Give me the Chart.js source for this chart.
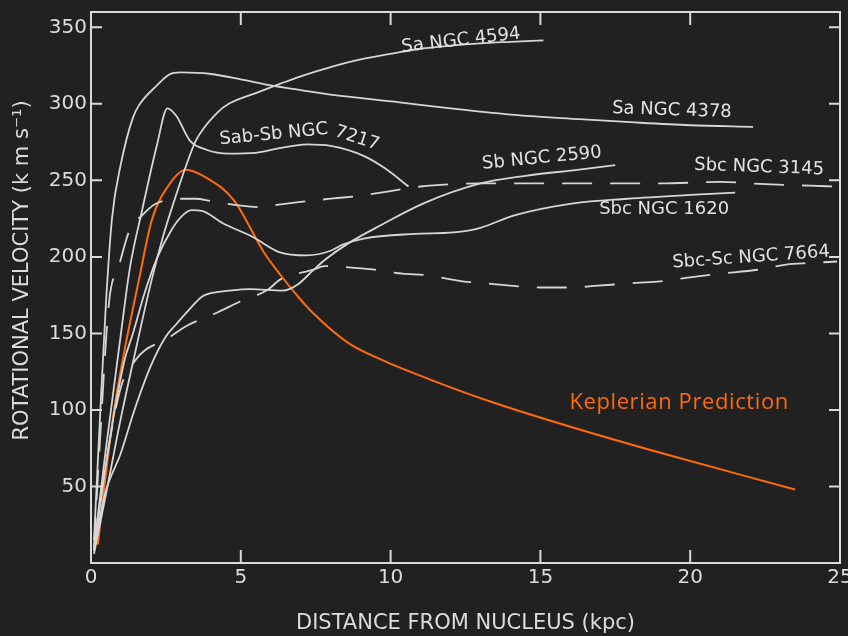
<!DOCTYPE html>
<html><head><meta charset="utf-8">
<script src="https://cdn.jsdelivr.net/npm/chart.js@4"></script>
<style>html,body{margin:0;padding:0;background:#212121;}canvas{display:block;}</style>
</head><body>
<canvas id="c" width="848" height="636"></canvas>
<script>
// ---- data (distance kpc, rotational velocity km/s) ----
const xTickValues = [0, 5, 10, 15, 20, 25];
const yTickValues = [50, 100, 150, 200, 250, 300, 350];

const ngc4594_x = [0.1, 0.5, 1.0, 1.4, 2.0, 2.4, 2.7, 3.2, 3.5, 4.2, 4.6, 5.5, 6.3, 7.0, 8.0, 9.0, 10.1, 11, 12, 13, 14, 15.1];
const ngc4594_v = [6, 45, 95, 131, 183, 213, 232, 261, 276, 294, 300, 307, 313, 318, 324, 329, 333, 336, 338, 339.5, 340.5, 341.5];

const ngc4378_x = [0.1, 0.3, 0.5, 0.7, 1.0, 1.4, 1.6, 2.2, 2.6, 3.0, 4.0, 5.0, 6.0, 7.0, 8.0, 10.3, 12, 14, 16.3, 18, 20, 22.1];
const ngc4378_v = [15, 95, 170, 225, 261, 291, 299, 312, 319, 320.5, 319.5, 316, 312, 309, 306, 301, 297, 293, 290, 288, 286, 285];

const ngc7217_x = [0.1, 0.5, 1.0, 1.3, 1.7, 2.2, 2.55, 2.85, 3.3, 3.85, 4.6, 5.5, 6.3, 7.2, 8.0, 9.1, 9.8, 10.6];
const ngc7217_v = [10, 75, 150, 193, 230, 273, 297, 292, 276, 270, 267.5, 268, 271, 273.5, 272.5, 266, 258, 246];

const ngc2590_x = [0.1, 0.45, 1.0, 1.45, 2.0, 2.5, 2.8, 3.3, 3.7, 4.2, 4.6, 5.3, 6.4, 6.9, 7.4, 7.8, 8.6, 9.7, 11.1, 13, 14.5, 16.3, 17.5];
const ngc2590_v = [8, 44, 72, 100, 129, 148, 155, 166, 174, 177, 178, 179, 178, 182, 191, 198, 209, 221, 235, 248, 253, 257, 260];

const ngc3145_x = [0.1, 0.3, 0.6, 0.93, 1.3, 1.7, 2.1, 2.5, 3.0, 3.5, 4.0, 5.0, 5.7, 6.2, 7.0, 8.0, 9.0, 10.0, 11.0, 12.0, 13.0, 15.0, 17.0, 19.0, 21.0, 22.5, 24.0, 24.8];
const ngc3145_v = [10, 80, 170, 194, 218, 227, 234, 237, 238, 238, 236.5, 233.5, 232.5, 234, 236, 238, 240, 243, 246, 247.5, 248, 248, 248, 248, 249, 247.5, 246.5, 246];

const ngc1620_x = [0.1, 0.5, 1.1, 1.4, 1.8, 2.2, 2.7, 3.0, 3.35, 3.7, 4.4, 5.4, 6.3, 7.2, 8.0, 8.4, 9.1, 10.8, 12.1, 13, 14.1, 16.1, 17.9, 20, 21.5];
const ngc1620_v = [8, 65, 131, 150, 177, 199, 218, 226, 230.5, 230, 222, 213, 203, 201, 204, 208, 212, 215, 216, 219, 227, 235, 238, 240.5, 242];

const ngc7664_x = [0.1, 0.5, 1.0, 1.5, 1.8, 2.5, 3.2, 4.2, 5.0, 5.9, 6.3, 7.4, 7.8, 8.7, 9.3, 10.4, 11.2, 12.4, 13.0, 14.1, 15.0, 16.0, 16.8, 18.2, 19.0, 20.3, 21.0, 22.4, 23.2, 24.0, 24.9];
const ngc7664_v = [8, 65, 115, 133, 139, 146, 155, 163.5, 171, 178.5, 185, 191.5, 194, 193, 192, 189, 188, 184, 183, 181, 180, 180, 181, 183, 184, 187.5, 189, 192, 195, 196, 197];

const kepler_x = [0.23, 0.43, 0.77, 1.1, 1.6, 2.03, 2.6, 3.17, 3.83, 4.77, 5.77, 6.33, 7.0, 7.4, 8.57, 9.67, 11.3, 13.4, 16.0, 19.0, 23.5];
const kepler_v = [12, 47, 100, 137, 185, 224, 247, 257, 252, 237, 203, 188, 172, 163.5, 144, 133, 120, 105, 89, 72, 48];

// curve labels, anchored in data units
const labelTexts = ['Sa NGC 4594', 'Sa NGC 4378', 'Sab-Sb NGC', '7217', 'Sb NGC 2590', 'Sbc NGC 3145', 'Sbc NGC 1620', 'Sbc-Sc NGC 7664', 'Keplerian Prediction'];
const labelX = [12.35, 19.39, 6.1, 8.88, 15.05, 22.3, 19.13, 22.03, 19.63];
const labelV = [341.4, 295.7, 280, 277.4, 264.4, 258.5, 231, 199.7, 105];
const labelRot = [-6.5, 2, -5.5, 18, -5.5, 2, 0, -4, 0];

const xTitle = 'DISTANCE FROM NUCLEUS (kpc)';
const yTitle = 'ROTATIONAL VELOCITY (k m s\u207B\u00B9)';

// ---- styles ----
const BG = '#212121';
const INK = '#d6d6d6';
const ORANGE = '#ff6a0d';
const LABEL_FONT = '18px "DejaVu Sans"';

function pts(xs, vs) { return xs.map((x, i) => ({ x: x, y: vs[i] })); }
function ds(xs, vs, opts) {
  return Object.assign({
    data: pts(xs, vs), borderColor: INK, borderWidth: 1.8, pointRadius: 0,
    cubicInterpolationMode: 'monotone', fill: false
  }, opts || {});
}

const bgPlugin = {
  id: 'bg',
  beforeDraw(chart) {
    const c = chart.ctx; c.save(); c.fillStyle = BG; c.fillRect(0, 0, chart.width, chart.height); c.restore();
  }
};

const framePlugin = {
  id: 'frame',
  afterDraw(chart) {
    const c = chart.ctx, a = chart.chartArea, xs = chart.scales.x, ys = chart.scales.y;
    c.save();
    c.strokeStyle = '#dadada'; c.lineWidth = 2;
    c.strokeRect(a.left, a.top, a.right - a.left, a.bottom - a.top);
    c.beginPath();
    xTickValues.forEach(v => {
      if (v <= xs.min || v >= xs.max) return;
      const p = xs.getPixelForValue(v);
      c.moveTo(p, a.bottom); c.lineTo(p, a.bottom - 13);
      c.moveTo(p, a.top); c.lineTo(p, a.top + 13);
    });
    yTickValues.forEach(v => {
      const p = ys.getPixelForValue(v);
      c.moveTo(a.left, p); c.lineTo(a.left + 11, p);
      c.moveTo(a.right, p); c.lineTo(a.right - 11, p);
    });
    c.stroke();

    // curve labels
    c.textAlign = 'center'; c.textBaseline = 'middle';
    labelTexts.forEach((t, i) => {
      const px = xs.getPixelForValue(labelX[i]), py = ys.getPixelForValue(labelV[i]);
      c.save();
      c.translate(px, py); c.rotate(labelRot[i] * Math.PI / 180);
      if (t === 'Keplerian Prediction') { c.fillStyle = ORANGE; c.font = '22px "Open Sans"'; c.letterSpacing = '0.6px'; }
      else { c.fillStyle = '#e2e2e2'; c.font = LABEL_FONT; }
      c.fillText(t, 0, 0);
      c.restore();
    });

    // y axis title
    c.save();
    c.translate(23, (a.top + a.bottom) / 2 - 17);
    c.rotate(-Math.PI / 2);
    c.fillStyle = '#dcdcdc'; c.font = '21px "DejaVu Sans"';
    c.fillText(yTitle, 0, 0);
    c.restore();
    c.restore();
  }
};

new Chart(document.getElementById('c'), {
  type: 'line',
  data: {
    datasets: [
      ds(ngc4594_x, ngc4594_v, { label: 'Sa NGC 4594' }),
      ds(ngc4378_x, ngc4378_v, { label: 'Sa NGC 4378' }),
      ds(ngc7217_x, ngc7217_v, { label: 'Sab-Sb NGC 7217' }),
      ds(ngc2590_x, ngc2590_v, { label: 'Sb NGC 2590' }),
      ds(ngc3145_x, ngc3145_v, { label: 'Sbc NGC 3145', borderDash: [30, 18] }),
      ds(ngc1620_x, ngc1620_v, { label: 'Sbc NGC 1620' }),
      ds(ngc7664_x, ngc7664_v, { label: 'Sbc-Sc NGC 7664', borderDash: [30, 18] }),
      ds(kepler_x, kepler_v, { label: 'Keplerian Prediction', borderColor: ORANGE, borderWidth: 2 })
    ]
  },
  options: {
    responsive: false, animation: false, devicePixelRatio: 1,
    layout: { padding: { top: 12, right: 8, left: 0, bottom: 0 } },
    plugins: { legend: { display: false }, tooltip: { enabled: false } },
    scales: {
      x: {
        type: 'linear', min: 0, max: 25,
        afterBuildTicks: s => { s.ticks = xTickValues.map(v => ({ value: v })); },
        afterFit: s => { s.height = 73; s.paddingLeft = 0; s.paddingRight = 0; },
        grid: { display: false, drawTicks: false },
        border: { display: false },
        ticks: { color: '#dcdcdc', font: { family: 'DejaVu Sans', size: 20 }, padding: 3, maxRotation: 0, autoSkip: false },
        title: { display: true, text: xTitle, color: '#dcdcdc', font: { family: 'DejaVu Sans', size: 21 }, padding: { top: 0, bottom: 0 } }
      },
      y: {
        type: 'linear', min: 0, max: 360,
        afterBuildTicks: s => { s.ticks = yTickValues.map(v => ({ value: v })); },
        afterFit: s => { s.width = 91; s.paddingTop = 0; s.paddingBottom = 0; },
        grid: { display: false, drawTicks: false },
        border: { display: false },
        ticks: { color: '#dcdcdc', font: { family: 'DejaVu Sans', size: 20 }, padding: 4, autoSkip: false },
        title: { display: false }
      }
    }
  },
  plugins: [bgPlugin, framePlugin]
});
</script>
</body></html>
